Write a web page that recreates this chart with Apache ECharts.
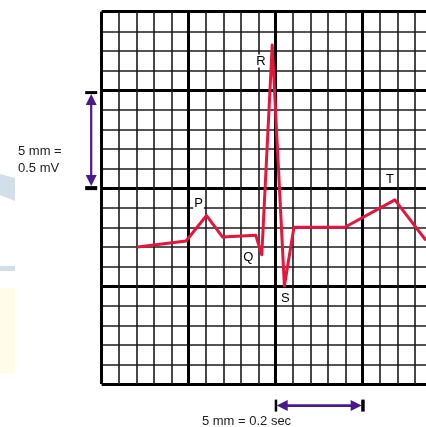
<!DOCTYPE html>
<html><head><meta charset="utf-8">
<script src="https://cdn.jsdelivr.net/npm/echarts@6/dist/echarts.min.js"></script>
<style>html,body{margin:0;padding:0;background:#fff}#c{width:426px;height:427px}</style>
</head><body><div id="c"></div>
<script>
// ECG trace: time (s) from the left edge of the paper, amplitude (mV) from baseline
const timeSec = [0.083, 0.194, 0.241, 0.278, 0.354, 0.368, 0.392, 0.420, 0.442, 0.559, 0.674, 0.743, 0.760];
const voltMv  = [0.00,  0.03,  0.16,  0.05,  0.06,  -0.04, 1.03,  -0.20, 0.10,  0.10,  0.24,  0.04,  0.02];
const waveLabels = ['', '', 'P', '', '', 'Q', 'R', 'S', '', '', 'T', '', ''];
const vScaleText = ['5 mm =', '0.5 mV'];
const hScaleText = '5 mm = 0.2 sec';
// paper: 1 mm = 0.04 s horizontally, 1 mm = 0.1 mV vertically; baseline on the 7th mm line
const SEC_PER_MM = 0.04, MV_PER_MM = 0.1, BASELINE_MM = 7;
const PAPER_W_MM = 19, PAPER_H_MM = 19;

const labelStyle = {
  P: {position: 'top', offset: [-8, 0]},
  Q: {position: 'left', offset: [-2, 3]},
  R: {position: 'left', offset: [0, 16]},
  S: {position: 'bottom', offset: [1, 0]},
  T: {position: 'top', offset: [-5, -8]}
};

const traceColor = '#e3173e';
const toPaper = (t, v) => [t / SEC_PER_MM, v / MV_PER_MM + BASELINE_MM];
const lineData = timeSec.map((t, i) => toPaper(t, voltMv[i]));
const labelData = [];
timeSec.forEach((t, i) => {
  const name = waveLabels[i];
  if (!name) return;
  labelData.push({
    value: toPaper(t, voltMv[i]),
    label: Object.assign({
      show: true, formatter: name, color: '#000', opacity: 1, fontSize: 13,
      fontFamily: 'Liberation Sans, Arial, sans-serif',
      backgroundColor: '#fff', padding: [0, 1, 0, 1], distance: 5
    }, labelStyle[name])
  });
});

const chart = echarts.init(document.getElementById('c'), null, {renderer: 'canvas'});
const GRID = {left: 101.7, top: 11.7, width: 17.4 * PAPER_W_MM, height: 19.6 * PAPER_H_MM};

function axis(interval, width, color, max) {
  return {
    type: 'value', min: 0, max: max, interval: interval,
    axisLine: {show: false}, axisTick: {show: false}, axisLabel: {show: false},
    splitLine: {show: true, lineStyle: {color: color, width: width}}
  };
}

chart.setOption({
  animation: false,
  backgroundColor: '#fff',
  grid: {left: GRID.left, top: GRID.top, width: GRID.width, height: GRID.height,
         containLabel: false, outerBoundsMode: 'none'},
  xAxis: [axis(1, 1.6, '#1a1a1a', PAPER_W_MM), axis(5, 3, '#000', PAPER_W_MM)],
  yAxis: [axis(1, 1.6, '#1a1a1a', PAPER_H_MM), axis(5, 3, '#000', PAPER_H_MM)],
  series: [{
    type: 'line', xAxisIndex: 0, yAxisIndex: 0, data: lineData,
    symbol: 'none', z: 5,
    lineStyle: {color: traceColor, width: 3, join: 'round', cap: 'round'}
  }, {
    type: 'scatter', xAxisIndex: 0, yAxisIndex: 0, data: labelData,
    symbolSize: 1, z: 6, itemStyle: {color: traceColor}, silent: true
  }]
});

const px = (x, y) => chart.convertToPixel({xAxisIndex: 0, yAxisIndex: 0}, [x, y]);
const purple = '#4a1a8c';
const font = '13px "Liberation Sans", Arial, sans-serif';
const g = [];
// faint background shapes on the left edge
g.push({type: 'polygon', z: -10, shape: {points: [[0, 174], [15, 178], [15, 201], [0, 195]]}, style: {fill: '#d3deeb'}});
g.push({type: 'rect', z: -10, shape: {x: 0, y: 266, width: 15, height: 5}, style: {fill: '#d3deeb'}});
g.push({type: 'rect', z: -10, shape: {x: 0, y: 288, width: 15, height: 85}, style: {fill: '#fffde8'}});

// vertical scale arrow (5 mm = 0.5 mV)
const vTop = px(0, 15)[1] + 3, vBot = px(0, 10)[1] - 1;
const vx = GRID.left - 10.5;
g.push({type: 'line', shape: {x1: vx, y1: vTop + 8, x2: vx, y2: vBot - 8}, style: {stroke: purple, lineWidth: 2.2}});
g.push({type: 'polygon', shape: {points: [[vx, vTop + 1], [vx - 5.5, vTop + 12], [vx + 5.5, vTop + 12]]}, style: {fill: purple}});
g.push({type: 'polygon', shape: {points: [[vx, vBot - 1], [vx - 5.5, vBot - 12], [vx + 5.5, vBot - 12]]}, style: {fill: purple}});
g.push({type: 'rect', shape: {x: vx - 6, y: vTop - 2, width: 12, height: 3}, style: {fill: '#000'}});
g.push({type: 'rect', shape: {x: vx - 6, y: vBot - 1, width: 12, height: 4}, style: {fill: '#000'}});
g.push({type: 'text', style: {x: 18, y: 151, text: vScaleText[0], fill: '#222', font: font, verticalAlign: 'middle'}});
g.push({type: 'text', style: {x: 18, y: 168, text: vScaleText[1], fill: '#222', font: font, verticalAlign: 'middle'}});

// horizontal scale arrow (5 mm = 0.2 sec)
const hy = GRID.top + GRID.height + 21.5;
const hL = px(10, 0)[0], hR = px(15, 0)[0];
g.push({type: 'line', shape: {x1: hL + 8, y1: hy, x2: hR - 8, y2: hy}, style: {stroke: purple, lineWidth: 2.6}});
g.push({type: 'polygon', shape: {points: [[hL + 1, hy], [hL + 12, hy - 5.5], [hL + 12, hy + 5.5]]}, style: {fill: purple}});
g.push({type: 'polygon', shape: {points: [[hR - 1, hy], [hR - 12, hy - 5.5], [hR - 12, hy + 5.5]]}, style: {fill: purple}});
g.push({type: 'rect', shape: {x: hL - 1, y: hy - 6, width: 2.5, height: 12}, style: {fill: '#000'}});
g.push({type: 'rect', shape: {x: hR - 1.5, y: hy - 6, width: 3.5, height: 12}, style: {fill: '#000'}});
g.push({type: 'text', style: {x: 246.5, y: 421.5, text: hScaleText, fill: '#222', font: font, align: 'center', verticalAlign: 'middle'}});

chart.setOption({graphic: g});
</script></body></html>
